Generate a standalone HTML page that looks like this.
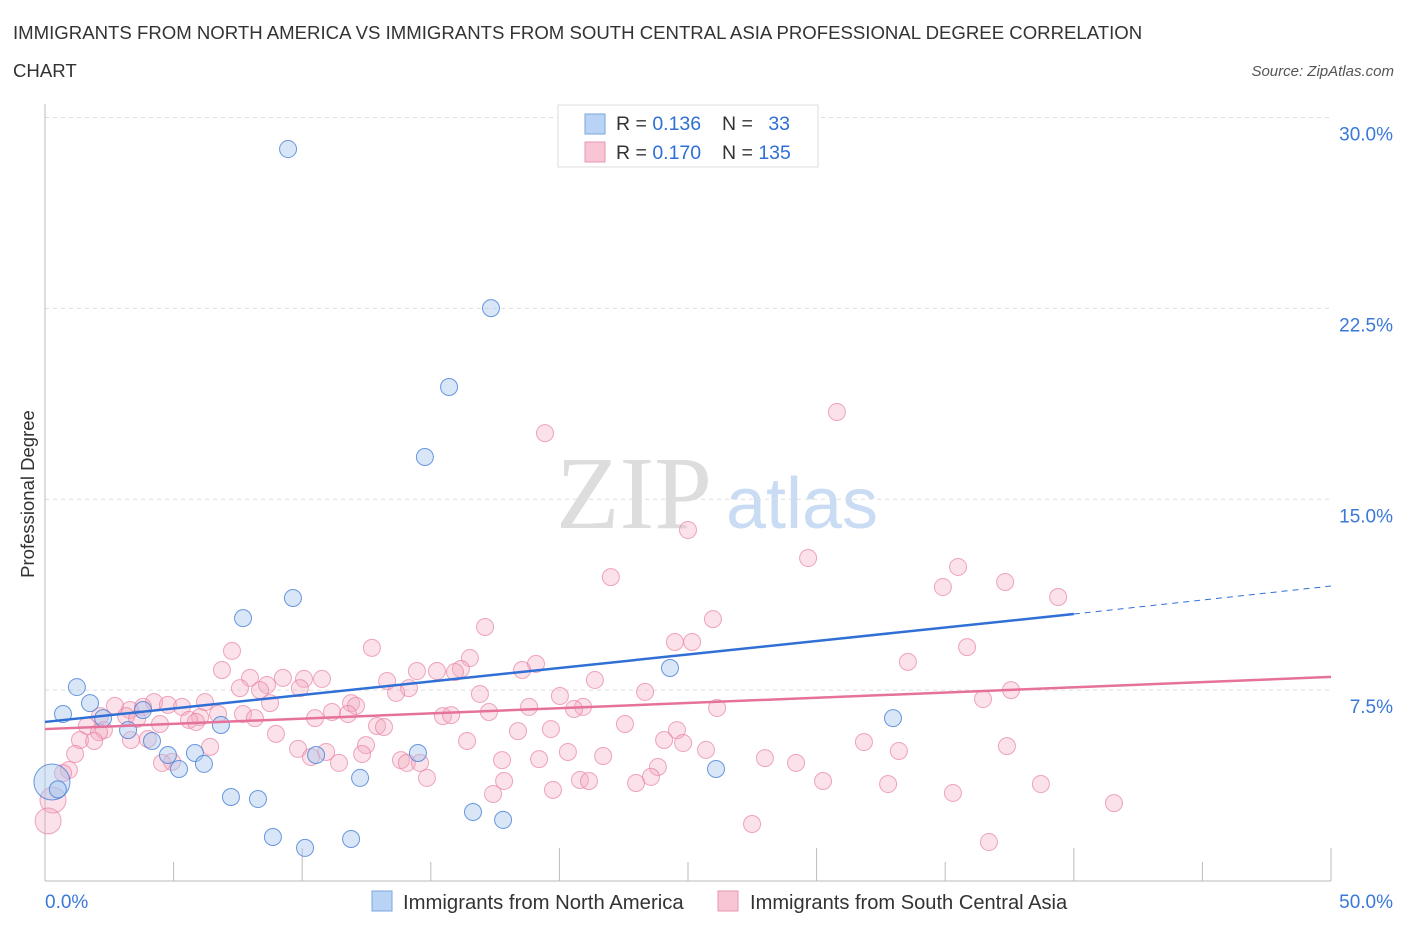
<!DOCTYPE html>
<html><head><meta charset="utf-8"><style>
body{margin:0;background:#fff;font-family:"Liberation Sans",sans-serif;}
svg{display:block}
</style></head><body>
<svg id="chart" width="1406" height="930">
<text x="13" y="39" font-size="18.6" fill="#333">IMMIGRANTS FROM NORTH AMERICA VS IMMIGRANTS FROM SOUTH CENTRAL ASIA PROFESSIONAL DEGREE CORRELATION</text>
<text x="13" y="77" font-size="18.6" fill="#333">CHART</text>
<text x="1394" y="76" font-size="15" fill="#555" font-style="italic" text-anchor="end">Source: ZipAtlas.com</text>
<text x="634" y="528" font-size="104" fill="#ddd" font-family="Liberation Serif,serif" text-anchor="middle">ZIP</text>
<text x="802" y="528" font-size="72" fill="#c9dcf3" text-anchor="middle">atlas</text>
<text transform="translate(34,494) rotate(-90)" font-size="18.5" fill="#333" text-anchor="middle">Professional Degree</text>
<g id="grid"></g><g id="pts"></g><g id="lines"></g>
<g>
<rect x="558" y="105" width="260" height="62" fill="#fff" stroke="#ddd"/>
<rect x="585" y="114" width="20" height="20" fill="#b9d3f5" stroke="#7aa7e0"/>
<rect x="585" y="142" width="20" height="20" fill="#f8c5d5" stroke="#e896b0"/>
<text x="616" y="130" font-size="19.5" fill="#333">R = <tspan fill="#2f6fd6">0.136</tspan></text>
<text x="722" y="130" font-size="19.5" fill="#333">N = <tspan fill="#2f6fd6" dx="10">33</tspan></text>
<text x="616" y="159" font-size="19.5" fill="#333">R = <tspan fill="#2f6fd6">0.170</tspan></text>
<text x="722" y="159" font-size="19.5" fill="#333">N = <tspan fill="#2f6fd6">135</tspan></text>
</g>
<g>
<rect x="372" y="891" width="20" height="20" fill="#b9d3f5" stroke="#7aa7e0"/>
<text x="403" y="909" font-size="20.3" fill="#333">Immigrants from North America</text>
<rect x="718" y="891" width="20" height="20" fill="#f8c5d5" stroke="#e896b0"/>
<text x="750" y="909" font-size="20.1" fill="#333">Immigrants from South Central Asia</text>
</g>
</svg>
<script>
const xTicks=[0,5,10,15,20,25,30,35,40,45,50];
const yTicks=[7.5,15,22.5,30];
const yTickLabels=["7.5%","15.0%","22.5%","30.0%"];
const blueX=[9.45,17.34,15.71,14.77,9.64,7.70,1.24,1.75,0.70,2.26,3.23,3.81,4.16,4.78,5.21,5.83,6.18,6.84,7.23,8.28,8.86,10.11,11.90,10.54,12.25,14.50,16.64,17.81,24.30,26.09,32.97,0.27,0.5];
const blueY=[28.76,22.51,19.41,16.66,11.12,10.33,7.62,6.99,6.56,6.40,5.93,6.72,5.50,4.95,4.40,5.03,4.60,6.13,3.30,3.22,1.73,1.30,1.65,4.95,4.05,5.03,2.71,2.40,8.37,4.40,6.40,3.89,3.6];
const pinkX=[30.79,19.44,25.0,29.67,35.5,22.0,37.33,34.91,39.39,25.97,17.11,24.49,25.16,35.85,12.71,7.27,16.52,33.55,19.09,18.55,16.17,15.94,15.24,14.46,6.88,7.97,9.25,10.07,10.77,21.38,13.30,8.63,9.91,7.58,8.36,37.56,14.15,13.65,16.91,20.02,23.33,36.47,4.24,4.78,5.33,6.22,2.72,3.81,3.30,8.75,11.90,12.09,20.92,20.57,18.82,17.26,26.13,11.16,11.78,6.73,6.03,7.70,8.16,2.14,3.15,3.58,5.60,5.87,10.50,4.47,1.63,2.29,2.10,12.91,13.18,15.47,15.79,22.55,18.39,24.57,19.67,8.98,1.36,3.34,1.91,4.00,6.42,16.41,24.07,24.81,31.84,9.84,10.93,12.48,12.33,10.34,1.17,33.20,37.40,20.33,25.70,21.70,4.94,11.43,13.84,14.07,14.58,14.85,17.77,19.21,27.99,29.20,23.83,23.56,0.93,0.70,17.85,20.80,21.15,22.98,30.25,32.78,38.72,17.42,19.75,35.30,41.56,0.31,0.12,27.49,36.70,4.55];
const pinkY=[18.43,17.60,13.79,12.69,12.34,11.94,11.75,11.55,11.16,10.29,9.98,9.39,9.39,9.19,9.16,9.04,8.76,8.61,8.53,8.29,8.33,8.21,8.25,8.25,8.29,7.98,7.98,7.94,7.94,7.90,7.86,7.70,7.58,7.58,7.50,7.50,7.58,7.39,7.35,7.27,7.43,7.15,7.03,6.92,6.84,7.03,6.88,6.84,6.72,6.99,6.99,6.88,6.84,6.76,6.84,6.64,6.80,6.64,6.56,6.56,6.44,6.56,6.40,6.48,6.48,6.37,6.33,6.25,6.40,6.17,6.09,5.93,5.85,6.09,6.05,6.48,6.52,6.17,5.89,5.93,5.97,5.78,5.54,5.54,5.50,5.58,5.27,5.50,5.54,5.42,5.46,5.19,5.07,5.34,4.99,4.87,4.99,5.11,5.30,5.07,5.15,4.91,4.68,4.64,4.75,4.64,4.64,4.05,4.75,4.79,4.83,4.64,4.48,4.09,4.36,4.24,3.93,3.97,3.93,3.85,3.93,3.81,3.81,3.42,3.58,3.46,3.06,3.18,2.36,2.24,1.53,4.64];
const blueTrend=[[0,6.25],[40,10.49],[50,11.59]];
const pinkTrend=[[0,5.97],[50,8.02]];
const NS="http://www.w3.org/2000/svg";
const X=v=>45+v*25.72, Y=v=>881-v*25.45;
function mk(t,a,p){const e=document.createElementNS(NS,t);for(const k in a)e.setAttribute(k,a[k]);p.appendChild(e);return e;}
const grid=document.getElementById('grid');
yTicks.forEach((t,i)=>{
 const l=mk('line',{x1:45,x2:1331,y1:Y(t),y2:Y(t),stroke:'#ddd','stroke-dasharray':'4,4'},grid);
 
 
 const tx=mk('text',{x:1393,y:Y(t)+23,'font-size':19,fill:'#3a78d8','text-anchor':'end'},grid);
 tx.textContent=yTickLabels[i];
 
 
});
mk('line',{x1:45,x2:45,y1:104,y2:881,stroke:'#bbb'},grid);
mk('line',{x1:45,x2:1331,y1:881,y2:881,stroke:'#bbb'},grid);
xTicks.forEach(t=>{const l=mk('line',{x1:X(t),x2:X(t),y1:t%10==0&&t>0?848:862,y2:881,stroke:'#bbb'},grid);
 
 });
const t0=mk('text',{x:45,y:908,'font-size':19,fill:'#3a78d8'},grid);t0.textContent='0.0%';


const t1=mk('text',{x:1393,y:908,'font-size':19,fill:'#3a78d8','text-anchor':'end'},grid);t1.textContent='50.0%';


const pts=document.getElementById('pts');
pinkX.forEach((x,i)=>{const c=mk('circle',{cx:X(x),cy:Y(pinkY[i]),r:(i>=127&&i<=128)?13:8.5,fill:'rgba(244,168,192,0.35)',stroke:'rgba(232,130,162,0.7)','stroke-width':1},pts);
 
 });
blueX.forEach((x,i)=>{const c=mk('circle',{cx:X(x),cy:Y(blueY[i]),r:i==31?18:8.5,fill:'rgba(168,200,240,0.45)',stroke:'rgba(60,120,210,0.75)','stroke-width':1},pts);
 
 });
const lines=document.getElementById('lines');
const bl=mk('line',{x1:X(blueTrend[0][0]),y1:Y(blueTrend[0][1]),x2:X(blueTrend[1][0]),y2:Y(blueTrend[1][1]),stroke:'#2f6fd6','stroke-width':2.5},lines);


const bd=mk('line',{x1:X(blueTrend[1][0]),y1:Y(blueTrend[1][1]),x2:X(blueTrend[2][0]),y2:Y(blueTrend[2][1]),stroke:'#2f6fd6','stroke-width':1,'stroke-dasharray':'6,5'},lines);


const pl=mk('line',{x1:X(pinkTrend[0][0]),y1:Y(pinkTrend[0][1]),x2:X(pinkTrend[1][0]),y2:Y(pinkTrend[1][1]),stroke:'#e6719a','stroke-width':2.5},lines);


</script>
</body></html>
